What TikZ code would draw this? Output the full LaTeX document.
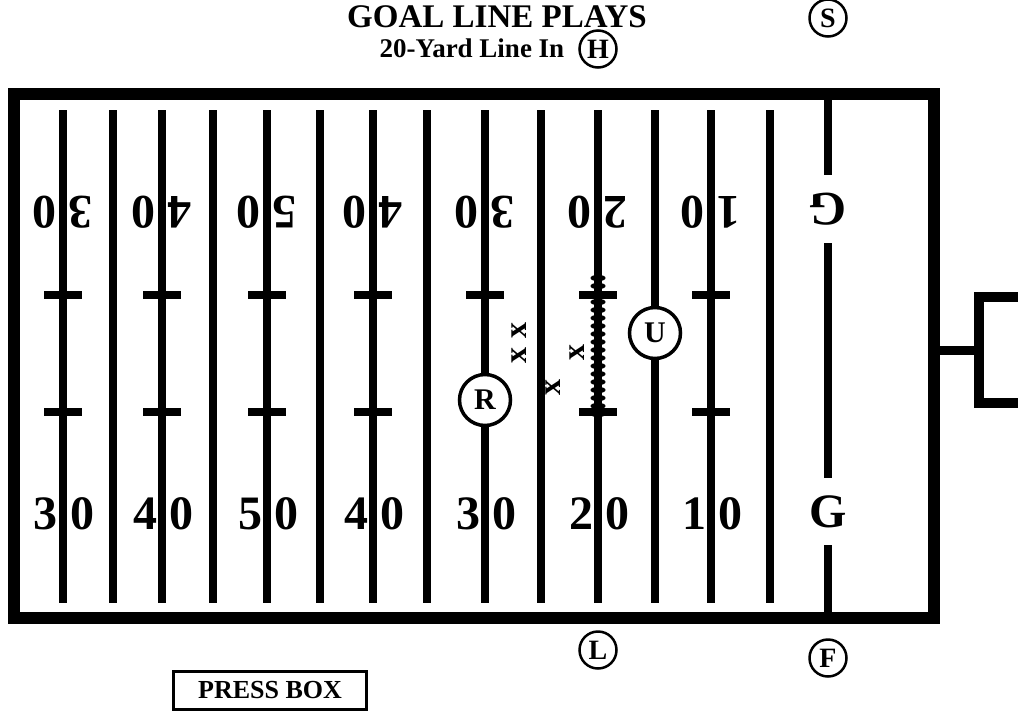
\documentclass[tikz,border=0pt]{standalone}
\usepackage{fontspec}
\setmainfont{Liberation Serif}

\tikzset{
  border/.style={line width=12pt},
  yardline/.style={line width=8pt},
  hashmark/.style={line width=8pt},
  player/.style={circle, draw, fill=white, line width=2.5pt, inner sep=0pt,
    minimum size=37pt, font=\bfseries\fontsize{28}{28}\selectfont},
  bigplayer/.style={player, line width=3.5pt, minimum size=51pt,
    font=\bfseries\fontsize{30}{30}\selectfont},
  fieldnum/.style={inner sep=0pt, font=\bfseries\fontsize{48}{48}\selectfont},
  xmark/.style={inner sep=0pt, rotate=90, font=\bfseries\fontsize{32}{32}\selectfont},
}

\begin{document}
\begin{tikzpicture}[x=1pt,y=-1pt]
    \useasboundingbox (0,0) rectangle (1018,713);

    % titles
    \node[inner sep=0pt, font=\bfseries\fontsize{33}{33}\selectfont] (title) at (497,17) {GOAL LINE PLAYS};
    \node[inner sep=0pt, font=\bfseries\fontsize{27}{27}\selectfont] (subtitle) at (472,48) {20-Yard Line In};

    % field
    \draw[border] (14,94) rectangle (934,618);
    \foreach \x in {63,113,162,213,267,320,373,427,485,541,598,655,711,770}
        \draw[yardline] (\x,110) -- (\x,603);
    \foreach \x in {63,162,267,373,485,598,711} {
        \draw[hashmark] (\x-19,295) -- (\x+19,295);
        \draw[hashmark] (\x-19,412) -- (\x+19,412);
    }

    % goal line
    \draw[yardline] (828,94) -- (828,175);
    \draw[yardline] (828,243) -- (828,478);
    \draw[yardline] (828,545) -- (828,618);

    % yard numbers
    \foreach \x/\d in {63/3,162/4,267/5,373/4,485/3,598/2,711/1} {
        \node[fieldnum] (bl\x) at (\x-17,514) {\d};
        \node[fieldnum] (br\x) at (\x+19,514) {0};
        \node[fieldnum, rotate=180] (tl\x) at (\x-19,212) {0};
        \node[fieldnum, rotate=180] (tr\x) at (\x+17,212) {\d};
    }
    \node[fieldnum] (gb) at (828,512) {G};
    \node[fieldnum, rotate=180] (gt) at (828,209) {G};

    % line of scrimmage
    \foreach \y in {278,286,...,418}
        \fill (598,\y) ellipse (7.5pt and 3.2pt);

    % defence
    \node[xmark] (x1) at (519,330) {x};
    \node[xmark] (x2) at (519,355) {x};
    \node[xmark] (x3) at (577,352) {x};
    \node[xmark] (x4) at (553,387) {x};

    % officials
    \node[bigplayer] (R) at (485,400) {R};
    \node[bigplayer] (U) at (655,333) {U};
    \node[player] (H) at (598,49) {H};
    \node[player] (S) at (828,18) {S};
    \node[player] (L) at (598,650) {L};
    \node[player] (F) at (828,658) {F};

    % goal post
    \coordinate (post) at (979,350);
    \draw[line width=9pt] (934,350) -- (post);
    \draw[line width=10pt] (1018,297) -- (979,297) -- (979,403) -- (1018,403);

    % press box
    \node[draw, line width=3pt, minimum width=193, minimum height=38,
        font=\bfseries\fontsize{26}{26}\selectfont] (pressbox) at (270,690) {PRESS BOX};
\end{tikzpicture}
\end{document}
